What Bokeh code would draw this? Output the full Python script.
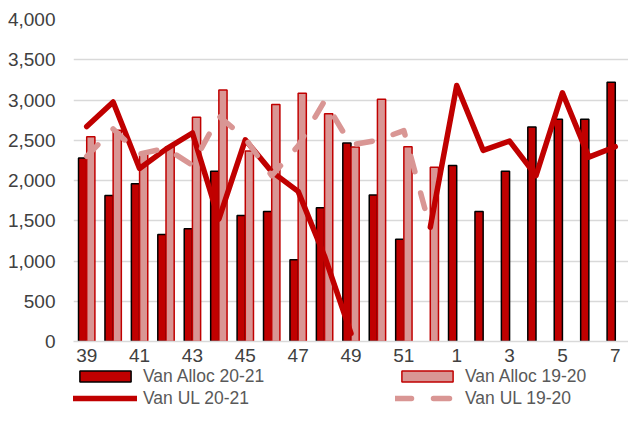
from bokeh.plotting import figure
from bokeh.layouts import column
from bokeh.models import (ColumnDataSource, Range1d, Legend, LegendItem, CDSView, IndexFilter,
                          NumeralTickFormatter, SingleIntervalTicker, FixedTicker)
from bokeh.transform import dodge
from bokeh.embed import file_html
from bokeh.resources import INLINE

nan = float("nan")

weeks = ["39", "40", "41", "42", "43", "44", "45", "46", "47", "48", "49", "50", "51", "52",
         "1", "2", "3", "4", "5", "6", "7"]
shown_ticks = ["39", "41", "43", "45", "47", "49", "51", "1", "3", "5", "7"]

van_alloc_2021 = [2280, 1815, 1960, 1330, 1400, 2115, 1565, 1615, 1015, 1660, 2465, 1820, 1270, nan,
                  2185, 1615, 2115, 2665, 2760, 2760, 3220]
van_alloc_1920 = [2545, 2625, 2340, 2420, 2785, 3125, 2365, 2945, 3085, 2830, 2415, 3010, 2420, 2165,
                  nan, nan, nan, nan, nan, nan, nan]
van_ul_2021 = [2670, 2975, 2150, 2390, 2590, 1520, 2505, 2110, 1865, 1060, 100, nan, nan, 1420,
               3180, 2375, 2490, 2060, 3090, 2290, 2420]
van_ul_1920 = [2300, 2640, 2330, 2400, 2190, 2800, 2520, 2060, 2430, 2990, 2440, 2500, 2620, 1400,
               nan, nan, nan, nan, nan, nan, nan]

series_labels = ["Van Alloc 20-21", "Van UL 20-21", "Van Alloc 19-20", "Van UL 19-20"]

DARK = "#C00000"
LIGHT = "#D99694"
FONT = "Liberation Sans"

idx = list(range(len(weeks)))
src = ColumnDataSource(dict(idx=idx, week=weeks, a21=van_alloc_2021, a20=van_alloc_1920,
                            u21=van_ul_2021, u20=van_ul_1920))

bar21 = dict(fill_color=DARK, line_color="black", line_width=1.5)
bar20 = dict(fill_color=LIGHT, line_color=DARK, line_width=1.5)
line21 = dict(line_color=DARK, line_width=5.5, line_cap="round", line_join="round")
line20 = dict(line_color=LIGHT, line_width=5.5, line_dash="16 22", line_cap="round", line_join="round")


def gap_view(values):
    # view holding one missing value only: nothing is drawn, the legend swatch still is
    i = next(k for k, v in enumerate(values) if v != v)
    return CDSView(filter=IndexFilter(indices=[i]))


p = figure(x_range=Range1d(-0.5, len(weeks) - 0.5), y_range=Range1d(0, 4000),
           width=628, height=365, output_backend="svg", toolbar_location=None,
           min_border_left=73, min_border_right=0, min_border_top=19, min_border_bottom=24)

# bars first, then lines on top
p.vbar(x=dodge("idx", -0.155), top="a21", width=0.31, source=src, **bar21)
p.vbar(x=dodge("idx", 0.155), top="a20", width=0.31, source=src, **bar20)
p.line(x="idx", y="u21", source=src, **line21)
p.line(x="idx", y="u20", source=src, **line20)

p.outline_line_color = None
p.xgrid.visible = False
p.ygrid.grid_line_color = "#D9D9D9"
p.ygrid.grid_line_width = 1.5

p.yaxis.ticker = SingleIntervalTicker(interval=500)
p.yaxis.formatter = NumeralTickFormatter(format="0,0")
p.yaxis.axis_line_color = None
p.yaxis.major_tick_line_color = None
p.yaxis.minor_tick_line_color = None
p.yaxis.major_label_standoff = 12
p.yaxis.major_label_text_font = FONT
p.yaxis.major_label_text_font_size = "19px"
p.yaxis.major_label_text_color = "#404040"

tick_idx = [i for i, w in enumerate(weeks) if w in shown_ticks]
p.xaxis.ticker = FixedTicker(ticks=tick_idx)
p.xaxis.major_label_overrides = {i: weeks[i] for i in tick_idx}
p.xaxis.axis_line_color = "#D9D9D9"
p.xaxis.axis_line_width = 1.5
p.xaxis.major_tick_line_color = None
p.xaxis.minor_tick_line_color = None
p.xaxis.major_label_standoff = 1
p.xaxis.major_label_text_font = FONT
p.xaxis.major_label_text_font_size = "19px"
p.xaxis.major_label_text_color = "#404040"

# legend strip below the chart
pl = figure(x_range=Range1d(-0.5, len(weeks) - 0.5), y_range=Range1d(0, 4000),
            width=628, height=44, output_backend="svg", toolbar_location=None,
            x_axis_location=None, y_axis_location=None,
            min_border_left=73, min_border_right=0, min_border_top=0, min_border_bottom=0)
pl.outline_line_color = None
pl.grid.visible = False
leg_renderers = [
    pl.vbar(x=dodge("idx", -0.155), top="a21", width=0.31, source=src,
            view=gap_view(van_alloc_2021), **bar21),
    pl.line(x="idx", y="u21", source=src, view=gap_view(van_ul_2021), **line21),
    pl.vbar(x=dodge("idx", 0.155), top="a20", width=0.31, source=src,
            view=gap_view(van_alloc_1920), **bar20),
    pl.line(x="idx", y="u20", source=src, view=gap_view(van_ul_1920), **line20),
]

legend = Legend(items=[LegendItem(label=lab, renderers=[r]) for lab, r in
                       zip(series_labels, leg_renderers)],
                location="top_left", ncols=2, orientation="vertical",
                padding=0, margin=0, spacing=0,
                label_text_font=FONT, label_text_font_size="17.5px", label_text_color="#595959",
                glyph_width=64, glyph_height=14, label_height=22, label_width=252,
                label_standoff=6, border_line_color=None, background_fill_alpha=0)
pl.add_layout(legend)

open("out.html", "w").write(file_html(column(p, pl), INLINE))
